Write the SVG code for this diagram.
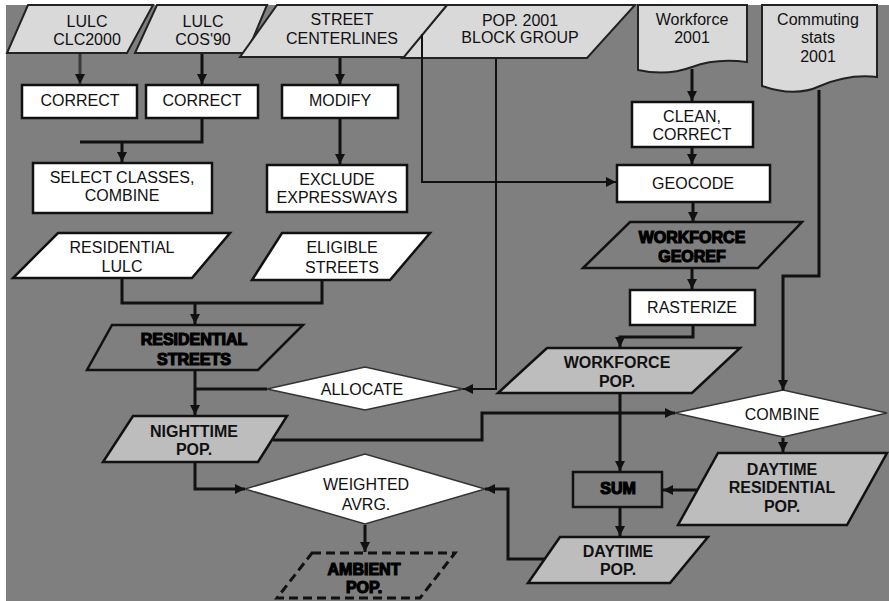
<svg xmlns="http://www.w3.org/2000/svg" width="889" height="601" viewBox="0 0 889 601">
<style>
.t{font-family:"Liberation Sans",Arial,sans-serif;font-size:16px;fill:#111;text-anchor:middle}
.b{font-weight:bold}
.h{font-weight:bold;fill:#000;stroke:#000;stroke-width:1.2}
.in{fill:#d9d9d9;stroke:#222;stroke-width:2}
.proc{fill:#fff;stroke:#111;stroke-width:2.5}
.mid{fill:#bdbdbd;stroke:#111;stroke-width:2.5}
.dark{fill:#7f7f7f;stroke:#111;stroke-width:2.5}
.dec{fill:#fff;stroke:#333;stroke-width:1.5}
.dash{fill:#7f7f7f;stroke:#111;stroke-width:3;stroke-dasharray:9 5}
.c{fill:none;stroke:#111;stroke-width:3}
.c2{fill:none;stroke:#111;stroke-width:2}
.cg{fill:none;stroke:#3a3a3a;stroke-width:3}
</style>
<defs>
<marker id="ah" markerUnits="userSpaceOnUse" markerWidth="12" markerHeight="12" viewBox="0 0 12 12" refX="11" refY="6" orient="auto">
<path d="M1,1 L11,6 L1,11 Z" fill="#111"/>
</marker>
</defs>
<rect x="0" y="0" width="889" height="601" fill="#fff"/>
<rect x="6" y="5" width="883" height="596" fill="#7f7f7f"/>

<g id="lulc-clc2000">
<polygon class="in" points="28,5 153,5 127,53 7,53"/>
<text class="t" x="87" y="27">LULC</text>
<text class="t" x="87" y="45">CLC2000</text>
</g>
<g id="lulc-cos90">
<polygon class="in" points="157,5 267,5 247,53 135,53"/>
<text class="t" x="203" y="27">LULC</text>
<text class="t" x="203" y="45">COS'90</text>
</g>
<g id="pop-block-group">
<polygon class="in" points="447,5 635,5 587,58 402,58"/>
<text class="t" x="520" y="26">POP. 2001</text>
<text class="t" x="520" y="43">BLOCK GROUP</text>
</g>
<g id="street-centerlines">
<polygon class="in" points="277,5 447,5 404,57 240,57"/>
<text class="t" x="342" y="25">STREET</text>
<text class="t" x="342" y="44">CENTERLINES</text>
</g>
<g id="workforce-2001">
<path class="in" d="M638,5 H747 V62 C725,59 705,62 692,67 C676,73 656,74 638,70 Z"/>
<text class="t" x="692" y="25">Workforce</text>
<text class="t" x="692" y="43">2001</text>
</g>
<g id="commuting-stats">
<path class="in" d="M762,5 H877 V77 C852,74 834,80 820,86 C803,94 782,93 762,86 Z"/>
<text class="t" x="818" y="25">Commuting</text>
<text class="t" x="818" y="43">stats</text>
<text class="t" x="818" y="62">2001</text>
</g>

<g id="correct-1">
<rect class="proc" x="22" y="85" width="115" height="33"/>
<text class="t" x="80" y="106">CORRECT</text>
</g>
<g id="correct-2">
<rect class="proc" x="146" y="85" width="112" height="33"/>
<text class="t" x="202" y="106">CORRECT</text>
</g>
<g id="modify">
<rect class="proc" x="282" y="85" width="116" height="33"/>
<text class="t" x="340" y="106">MODIFY</text>
</g>
<g id="clean-correct">
<rect class="proc" x="632" y="102" width="121" height="45"/>
<text class="t" x="692" y="122">CLEAN,</text>
<text class="t" x="692" y="140">CORRECT</text>
</g>
<g id="select-classes">
<rect class="proc" x="33" y="163" width="179" height="50"/>
<text class="t" x="122" y="183">SELECT CLASSES,</text>
<text class="t" x="122" y="201">COMBINE</text>
</g>
<g id="exclude-expressways">
<rect class="proc" x="267" y="165" width="140" height="47"/>
<text class="t" x="337" y="185">EXCLUDE</text>
<text class="t" x="337" y="203">EXPRESSWAYS</text>
</g>
<g id="geocode">
<rect class="proc" x="617" y="165" width="153" height="37"/>
<text class="t" x="693" y="189">GEOCODE</text>
</g>
<g id="residential-lulc">
<polygon class="proc" points="58,233 230,233 192,278 13,278"/>
<text class="t" x="122" y="253">RESIDENTIAL</text>
<text class="t" x="122" y="272">LULC</text>
</g>
<g id="eligible-streets">
<polygon class="proc" points="282,233 430,233 390,280 252,280"/>
<text class="t" x="342" y="253">ELIGIBLE</text>
<text class="t" x="342" y="273">STREETS</text>
</g>
<g id="workforce-georef">
<polygon class="dark" points="630,222 802,222 758,268 583,268"/>
<text class="t h" x="692" y="243">WORKFORCE</text>
<text class="t h" x="692" y="262">GEOREF</text>
</g>
<g id="rasterize">
<rect class="proc" x="630" y="290" width="125" height="35"/>
<text class="t" x="692" y="313">RASTERIZE</text>
</g>
<g id="residential-streets">
<polygon class="dark" points="112,325 303,325 258,370 87,370"/>
<text class="t h" x="194" y="345">RESIDENTIAL</text>
<text class="t h" x="194" y="365">STREETS</text>
</g>
<g id="allocate">
<polygon class="dec" points="267,389 365,367 463,389 365,410"/>
<text class="t" x="362" y="395">ALLOCATE</text>
</g>
<g id="nighttime-pop">
<polygon class="mid" points="133,416 287,416 258,462 103,462"/>
<text class="t b" x="194" y="437">NIGHTTIME</text>
<text class="t b" x="194" y="455">POP.</text>
</g>
<g id="workforce-pop">
<polygon class="mid" points="547,348 740,348 692,393 498,393"/>
<text class="t b" x="617" y="368">WORKFORCE</text>
<text class="t b" x="617" y="387">POP.</text>
</g>
<g id="combine">
<polygon class="dec" points="675,413 783,390 887,413 783,437"/>
<text class="t" x="782" y="420">COMBINE</text>
</g>
<g id="weighted-avrg">
<polygon class="dec" points="245,489 365,454 485,489 365,524"/>
<text class="t" x="366" y="490">WEIGHTED</text>
<text class="t" x="366" y="510">AVRG.</text>
</g>
<g id="sum">
<rect class="dark" x="573" y="472" width="89" height="35"/>
<text class="t h" x="618" y="494">SUM</text>
</g>
<g id="daytime-residential-pop">
<polygon class="mid" points="718,453 887,453 847,525 678,525"/>
<text class="t b" x="782" y="475">DAYTIME</text>
<text class="t b" x="782" y="493">RESIDENTIAL</text>
<text class="t b" x="782" y="512">POP.</text>
</g>
<g id="daytime-pop">
<polygon class="mid" points="560,537 708,537 670,583 528,583"/>
<text class="t b" x="618" y="557">DAYTIME</text>
<text class="t b" x="618" y="575">POP.</text>
</g>
<g id="ambient-pop">
<polygon class="dash" points="312,553 455,553 420,598 277,598"/>
<text class="t h" x="364" y="575">AMBIENT</text>
<text class="t h" x="364" y="593">POP.</text>
</g>

<g id="connectors">
<path class="cg" d="M80,54 V84" marker-end="url(#ah)"/>
<path class="c" d="M202,54 V84" marker-end="url(#ah)"/>
<path class="c" d="M340,58 V84" marker-end="url(#ah)"/>
<path class="c" d="M202,119 V142 H80"/>
<path class="c" d="M122,142 V162" marker-end="url(#ah)"/>
<path class="c" d="M340,119 V164" marker-end="url(#ah)"/>
<path class="c2" d="M422,34 V182 H616" marker-end="url(#ah)"/>
<path class="c2" d="M496,59 V389 H463" marker-end="url(#ah)"/>
<path class="c" d="M692,69 V101" marker-end="url(#ah)"/>
<path class="c" d="M692,148 V164" marker-end="url(#ah)"/>
<path class="c" d="M693,203 V222" marker-end="url(#ah)"/>
<path class="c" d="M692,269 V289" marker-end="url(#ah)"/>
<path class="c" d="M693,326 V337 H620 V347" marker-end="url(#ah)"/>
<path class="c" d="M819,90 V276 H783 V390" marker-end="url(#ah)"/>
<path class="c" d="M122,279 V303 H322 V281"/>
<path class="c" d="M195,303 V324" marker-end="url(#ah)"/>
<path class="c" d="M195,371 V415" marker-end="url(#ah)"/>
<path class="c" d="M195,389 H267"/>
<path class="c" d="M273,440 H482 V413 H675" marker-end="url(#ah)"/>
<path class="c" d="M195,463 V489 H245" marker-end="url(#ah)"/>
<path class="c" d="M620,394 V471" marker-end="url(#ah)"/>
<path class="c" d="M697,490 H663" marker-end="url(#ah)"/>
<path class="c" d="M783,438 V452" marker-end="url(#ah)"/>
<path class="c" d="M620,508 V536" marker-end="url(#ah)"/>
<path class="c" d="M545,559 H508 V489 H485" marker-end="url(#ah)"/>
<path class="c" d="M365,525 V552" marker-end="url(#ah)"/>
</g>
</svg>
